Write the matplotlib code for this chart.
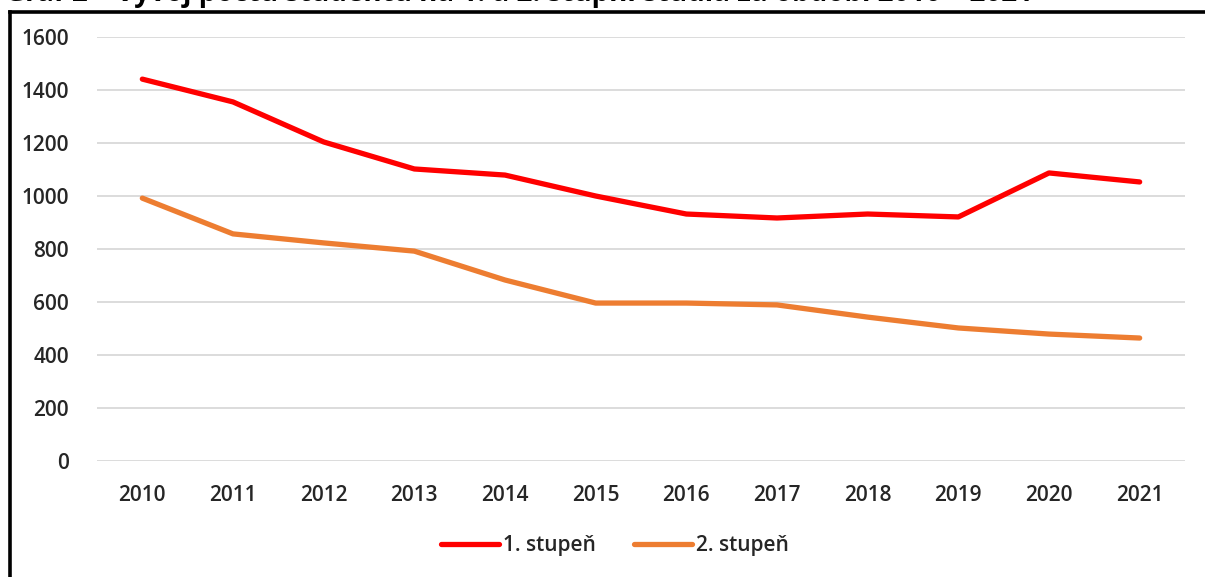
import matplotlib.pyplot as plt
from matplotlib.lines import Line2D

# data
years = ['2010', '2011', '2012', '2013', '2014', '2015',
         '2016', '2017', '2018', '2019', '2020', '2021']
stupen1 = [1441, 1355, 1204, 1102, 1079, 1000, 932, 917, 932, 921, 1087, 1053]
stupen2 = [992, 857, 823, 792, 683, 596, 596, 589, 543, 502, 479, 464]
yticks = [0, 200, 400, 600, 800, 1000, 1200, 1400, 1600]
title = 'Graf 2 – Vývoj počtu studentů na 1. a 2. stupni studia za období 2010 – 2021'

plt.rcParams['font.family'] = ['Open Sans', 'DejaVu Sans']

W, H = 1205, 577
fig = plt.figure(figsize=(W / 100, H / 100), dpi=100)
ax = fig.add_axes([97 / W, (H - 461) / H, (1185 - 97) / W, (461 - 37) / H])

x = range(len(years))
ax.plot(x, stupen1, color='#FF0000', lw=3.8, solid_capstyle='round', label='1. stupeň')
ax.plot(x, stupen2, color='#ED7D31', lw=3.8, solid_capstyle='round', label='2. stupeň')

ax.set_xlim(-0.5, len(years) - 0.5)
ax.set_ylim(0, 1600)
ax.set_yticks(yticks)
ax.set_xticks(list(x))
ax.set_xticklabels(years)
ax.grid(axis='y', color='#D9D9D9', lw=1.3)
ax.set_axisbelow(True)
for s in ax.spines.values():
    s.set_visible(False)
ax.tick_params(length=0, labelsize=15, labelcolor='#262626')
ax.tick_params(axis='y', pad=20)
ax.tick_params(axis='x', pad=17)
for lab in ax.get_xticklabels() + ax.get_yticklabels():
    lab.set_fontweight('semibold')

leg = ax.legend(loc='center', bbox_to_anchor=(615 / W, 1 - 546 / H),
                bbox_transform=fig.transFigure, ncol=2, frameon=False,
                fontsize=15, handlelength=2.8, handletextpad=0.2, columnspacing=1.8)
for t in leg.get_texts():
    t.set_color('#262626')
    t.set_fontweight('semibold')

# title cut off at the top edge, as in the reference, plus the frame lines
fig.text(5 / W, 1 - 8 / H, title, fontsize=20, fontweight='bold', va='bottom', ha='left')
fig.add_artist(Line2D([9.5 / W, 1], [1 - 11.5 / H, 1 - 11.5 / H], color='black', lw=2.6,
                      transform=fig.transFigure))
fig.add_artist(Line2D([9.5 / W, 9.5 / W], [0, 1 - 11.5 / H], color='black', lw=2.6,
                      transform=fig.transFigure))

fig.savefig('out.png', dpi=100)
